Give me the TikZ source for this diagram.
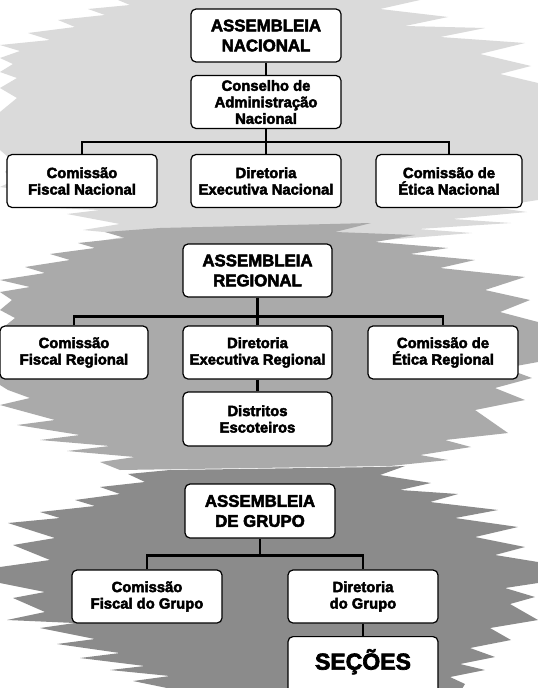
\documentclass[tikz,border=0pt]{standalone}
\usepackage{fontspec}
\setmainfont{Liberation Sans}[BoldFont={Liberation Sans Bold}, BoldFeatures={FakeBold=3}]
\definecolor{bgA}{RGB}{218,218,218}
\definecolor{bgB}{RGB}{170,170,170}
\definecolor{bgC}{RGB}{139,139,139}
\tikzset{
  box/.style={draw=black, fill=white, line width=1.2pt, rounded corners=5pt,
    minimum width=150pt, minimum height=53pt, inner sep=2pt, align=center,
    font=\fontsize{14.8}{16.5}\selectfont\bfseries},
  titlebox/.style={box, font=\fontsize{16.8}{20}\selectfont\bfseries},
  link/.style={draw=black, line width=2.4pt, line join=miter},
}
\begin{document}
\begin{tikzpicture}[x=1pt,y=-1pt]
\useasboundingbox (0,0) rectangle (538,688);
\fill[white] (0,0) rectangle (538,688);
% background brush strokes
\fill[bgA] (0,45) -- (50,40) -- (28,33) -- (75,27) -- (58,20) -- (105,15) -- (88,9) -- (130,5) -- (118,0)
  -- (420,0) -- (380,9) -- (448,17) -- (405,26) -- (485,28) -- (440,37) -- (525,43) -- (480,54)
  -- (531,66) -- (500,74) -- (538,83) -- (538,200) -- (492,207) -- (527,212) -- (452,219) -- (511,223)
  -- (418,229) -- (472,233) -- (385,240) -- (300,246) -- (150,246) -- (100,241) -- (135,235) -- (83,230)
  -- (120,224) -- (67,214) -- (100,210) -- (33,207) -- (60,203) -- (20,200) -- (45,193) -- (0,187)
  -- (15,180) -- (5,172) -- (14,162) -- (0,150) -- (0,112) -- (17,98) -- (0,88) -- (17,78) -- (0,72)
  -- (13,64) -- (0,58) -- (20,51) -- cycle;
\fill[bgB] (0,280) -- (45,273) -- (25,267) -- (70,260) -- (50,254) -- (95,248) -- (78,243) -- (125,238)
  -- (105,232) -- (160,228) -- (330,224) -- (371,223) -- (335,232) -- (415,235) -- (375,242) -- (448,248)
  -- (410,254) -- (475,260) -- (440,268) -- (525,277) -- (485,290) -- (530,300) -- (500,312) -- (538,322)
  -- (538,362) -- (505,368) -- (532,378) -- (495,388) -- (525,400) -- (475,410) -- (508,433) -- (445,440)
  -- (471,447) -- (420,455) -- (448,460) -- (390,466) -- (120,470) -- (100,462) -- (135,457) -- (67,451)
  -- (110,446) -- (40,440) -- (80,435) -- (17,425) -- (55,420) -- (0,405) -- (30,398) -- (8,390)
  -- (0,385) -- (0,330) -- (15,318) -- (0,310) -- (12,300) -- (0,292) -- (30,287) -- cycle;
\fill[bgC] (0,567) -- (50,560) -- (13,545) -- (55,538) -- (8,523) -- (60,518) -- (40,512) -- (95,506)
  -- (75,500) -- (120,494) -- (100,487) -- (145,482) -- (128,474) -- (170,470) -- (380,467) -- (405,466)
  -- (380,475) -- (431,483) -- (400,490) -- (458,494) -- (430,502) -- (498,510) -- (455,518) -- (518,527)
  -- (475,537) -- (525,547) -- (495,555) -- (538,562) -- (538,583) -- (505,588) -- (535,597) -- (510,604)
  -- (538,620) -- (490,628) -- (511,640) -- (470,648) -- (495,657) -- (460,664) -- (485,670) -- (450,677)
  -- (465,684) -- (455,700) -- (170,700) -- (167,688) -- (133,681) -- (170,676) -- (110,670) -- (145,666)
  -- (80,658) -- (120,653) -- (57,644) -- (95,639) -- (40,628) -- (75,623) -- (7,620) -- (45,612)
  -- (13,598) -- (45,592) -- (0,583) -- cycle;
% national level
\node[titlebox] (an) at (266,35.5) {ASSEMBLEIA\\NACIONAL};
\node[box] (ca) at (266,102) {Conselho de\\Administração\\Nacional};
\node[box] (cfn) at (82,181) {Comissão\\Fiscal Nacional};
\node[box] (den) at (266,181) {Diretoria\\Executiva Nacional};
\node[box, minimum width=146pt] (cen) at (449,181) {Comissão de\\Ética Nacional};
\draw[link] (an) -- (ca);
\draw[link] (ca) -- (den);
\draw[link] (cfn.north) -- ++(0,-12) -| (cen.north);
% regional level
\node[titlebox, minimum width=149pt] (ar) at (257.5,270.5) {ASSEMBLEIA\\REGIONAL};
\node[box, minimum width=148pt] (cfr) at (74,352.5) {Comissão\\Fiscal Regional};
\node[box, minimum width=149pt] (der) at (257.5,352.5) {Diretoria\\Executiva Regional};
\node[box] (cer) at (443,352.5) {Comissão de\\Ética Regional};
\node[box, minimum width=149pt, minimum height=54pt] (de) at (257.5,419) {Distritos\\Escoteiros};
\draw[link] (ar) -- (der);
\draw[link] (der) -- (de);
\draw[link] (cfr.north) -- ++(0,-9) -| (cer.north);
% group level
\node[titlebox, minimum height=54pt] (ag) at (260,511) {ASSEMBLEIA\\DE GRUPO};
\node[box] (cfg) at (147,596.5) {Comissão\\Fiscal do Grupo};
\node[box] (dg) at (363,596.5) {Diretoria\\do Grupo};
\node[draw=black, fill=white, line width=1.2pt, rounded corners=5pt, minimum width=150pt,
  inner xsep=2pt, inner ysep=0pt, text height=33pt, text depth=30pt, anchor=north,
  font=\fontsize{23}{26}\selectfont\bfseries] (sec) at (363,636) {SEÇÕES};
\draw[link] (ag.south) -- ++(0,18);
\draw[link] (cfg.north) -- ++(0,-14) -| (dg.north);
\draw[link] (dg) -- (sec);
\end{tikzpicture}
\end{document}
